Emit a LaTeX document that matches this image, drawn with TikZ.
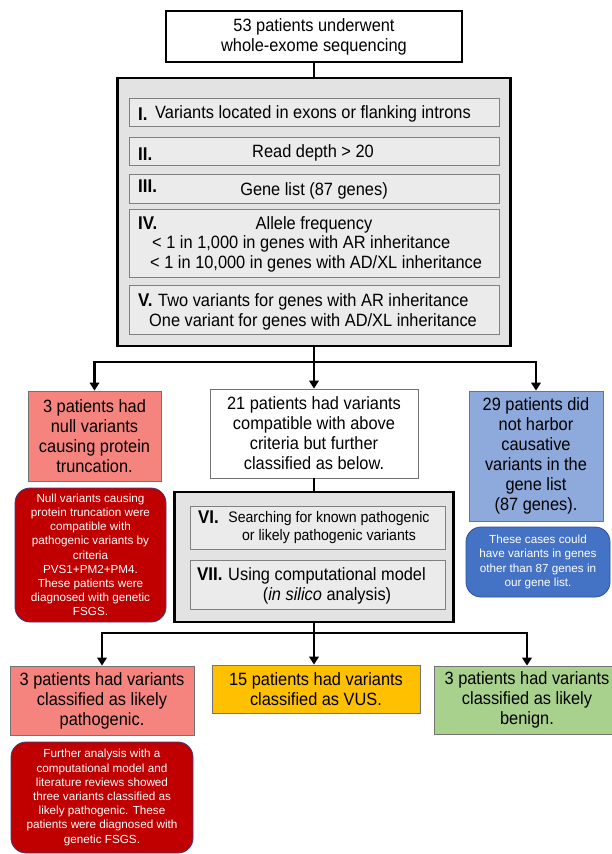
\documentclass[tikz,border=0pt]{standalone}
\usepackage{fontspec}
\setmainfont{Liberation Sans}
\newfontfamily\tallsans{Liberation Sans}[FakeStretch=0.92]
\usetikzlibrary{positioning,arrows.meta}
\definecolor{salmon}{RGB}{246,132,126}
\definecolor{skyblue}{RGB}{142,169,219}
\definecolor{amber}{RGB}{255,192,0}
\definecolor{leaf}{RGB}{169,209,142}
\definecolor{darkred}{RGB}{192,0,0}
\definecolor{royal}{RGB}{68,114,196}
\definecolor{navyline}{RGB}{60,60,130}
\definecolor{blueline}{RGB}{45,80,160}
\newcommand{\bigtxt}{\tallsans\fontsize{17.8}{20}\selectfont}
\newcommand{\midtxt}{\tallsans\fontsize{15.3}{18}\selectfont}
\newcommand{\smalltxt}{\fontsize{11.7}{14.2}\selectfont}
\newcommand{\numtxt}{\tallsans\fontsize{18.4}{20}\selectfont\bfseries}
\tikzset{
  stepbox/.style={draw=black,line width=2.5pt,fill=white,inner sep=0pt,align=center,font=\bigtxt},
  panel/.style={draw=black,line width=2.5pt,fill=black!11,inner sep=0pt},
  crit/.style={draw=black!50,line width=1pt,fill=black!8,inner sep=0pt},
  critlbl/.style={anchor=base west,inner sep=0pt,font=\numtxt},
  crittxt/.style={anchor=base,inner sep=0pt,font=\bigtxt},
  outbox/.style={draw=black!55,line width=0.8pt,inner sep=0pt,align=center,font=\bigtxt},
  notebox/.style={draw=#1,line width=0.8pt,rounded corners=15pt,inner sep=0pt,align=center,text=white,font=\smalltxt},
  flow/.style={line width=2.5pt,-{Triangle[length=8pt,width=9.5pt]}},
  bar/.style={line width=2.5pt},
}
\begin{document}
\begin{tikzpicture}[x=1pt,y=-1pt]
  \useasboundingbox (0,0) rectangle (611,854);
  % start
  \node[stepbox,minimum width=296,minimum height=51] (wes) at (314,36.5)
    {53 patients underwent\\whole-exome sequencing};
  % criteria I--V
  \node[panel,minimum width=393,minimum height=268] (filt) at (314,212) {};
  \node[crit,minimum width=370,minimum height=28.5] (r1) at (314,112.25) {};
  \node[crit,minimum width=370,minimum height=28] (r2) at (314,151) {};
  \node[crit,minimum width=370,minimum height=28.5] (r3) at (314,188.75) {};
  \node[crit,minimum width=370,minimum height=68] (r4) at (314,243) {};
  \node[crit,minimum width=370,minimum height=49] (r5) at (314,309.5) {};
  \node[critlbl] (n1) at (138,120) {I.};
  \node[crittxt,anchor=base west] (t1) at (155,118) {Variants located in exons or flanking introns};
  \node[critlbl] (n2) at (138,160) {II.};
  \node[crittxt] (t2) at (313,157) {Read depth > 20};
  \node[critlbl] (n3) at (138,192) {III.};
  \node[crittxt] (t3) at (314,195) {Gene list (87 genes)};
  \node[critlbl] (n4) at (138,229) {IV.};
  \node[crittxt] (t4) at (314,229) {Allele frequency};
  \node[crittxt,anchor=base west] (t4a) at (152,248) {< 1 in 1,000 in genes with AR inheritance};
  \node[crittxt,anchor=base west] (t4b) at (150,268) {< 1 in 10,000 in genes with AD/XL inheritance};
  \node[critlbl] (n5) at (138,306) {V.};
  \node[crittxt,anchor=base west] (t5a) at (158,306) {Two variants for genes with AR inheritance};
  \node[crittxt,anchor=base west] (t5b) at (149,326) {One variant for genes with AD/XL inheritance};
  % first split
  \node[outbox,fill=salmon,minimum width=133,minimum height=90] (nullbox) at (94.5,436)
    {3 patients had\\null variants\\causing protein\\truncation.};
  \node[notebox=navyline,fill=darkred,minimum width=151,minimum height=134] (nullnote) at (90.5,555)
    {Null variants causing\\protein truncation were\\compatible with\\pathogenic variants by\\criteria\\PVS1+PM2+PM4.\\These patients were\\diagnosed with genetic\\FSGS.};
  \node[outbox,fill=white,minimum width=208,minimum height=89] (midbox) at (314,433.5)
    {21 patients had variants\\compatible with above\\criteria but further\\classified as below.};
  \node[outbox,fill=skyblue,minimum width=134,minimum height=130] (nonebox) at (536,456)
    {29 patients did\\not harbor\\causative\\variants in the\\gene list\\(87 genes).};
  \node[notebox=blueline,fill=royal,minimum width=144,minimum height=70] (nonenote) at (538,562)
    {These cases could\\have variants in genes\\other than 87 genes in\\our gene list.};
  % criteria VI--VII
  \node[panel,minimum width=279,minimum height=130] (cls) at (314,557) {};
  \node[crit,minimum width=255,minimum height=43] (r6) at (317.5,527.5) {};
  \node[crit,minimum width=255,minimum height=49] (r7) at (317.5,584.5) {};
  \node[critlbl] (n6) at (198,523) {VI.};
  \node[inner sep=0pt,align=center,font=\midtxt] (t6) at (329,528)
    {Searching for known pathogenic\\or likely pathogenic variants};
  \node[critlbl] (n7) at (197,580) {VII.};
  \node[inner sep=0pt,align=center,font=\bigtxt] (t7) at (327,586)
    {Using computational model\\(\textit{in silico} analysis)};
  % second split
  \node[outbox,fill=salmon,minimum width=184,minimum height=69] (lpbox) at (102,700.5)
    {3 patients had variants\\classified as likely\\pathogenic.};
  \node[notebox=navyline,fill=darkred,minimum width=182,minimum height=111] (lpnote) at (102,797.5)
    {Further analysis with a\\computational model and\\literature reviews showed\\three variants classified as\\likely pathogenic. These\\patients were diagnosed with\\genetic FSGS.};
  \node[outbox,fill=amber,minimum width=208,minimum height=48] (vusbox) at (316,689)
    {15 patients had variants\\classified as VUS.};
  \node[outbox,fill=leaf,minimum width=184.5,minimum height=68] (lbbox) at (527,700)
    {3 patients had variants\\classified as likely\\benign.};
  % connectors
  \coordinate (fork1) at (314,362);
  \coordinate (fork2) at (314,633);
  \draw[bar] (wes.south) -- (filt.north);
  \draw[bar] (filt.south) -- (fork1);
  \draw[flow] (fork1) -| (nullbox.north);
  \draw[flow] (fork1) -- (fork1 |- midbox.north);
  \draw[flow] (fork1) -| (nonebox.north);
  \draw[bar] (midbox.south) -- (cls.north);
  \draw[bar] (cls.south) -- (fork2);
  \draw[flow] (fork2) -| (lpbox.north);
  \draw[flow] (fork2) -- (fork2 |- vusbox.north);
  \draw[flow] (fork2) -| (lbbox.north);
\end{tikzpicture}
\end{document}
